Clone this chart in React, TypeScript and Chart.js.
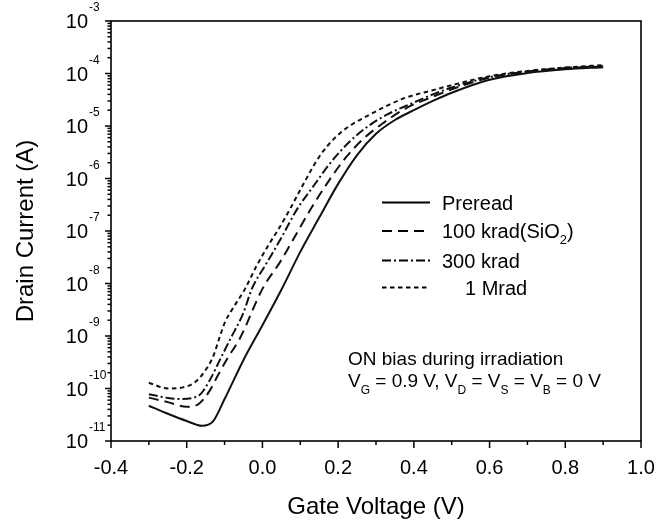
import React, { useEffect, useRef } from 'react';
import { Chart, registerables } from 'chart.js';

Chart.register(...registerables);

const FONT = '"Liberation Sans", Arial, Helvetica, sans-serif';

// ---- Data (gate voltage in V, drain current in A) ----
const prereadVoltage = [-0.30, -0.25, -0.20, -0.16, -0.13, -0.10, -0.05, 0.00, 0.05, 0.10, 0.15, 0.20, 0.25, 0.30, 0.35, 0.40, 0.45, 0.50, 0.60, 0.70, 0.80, 0.90];
const prereadCurrent = [4.7e-11, 3.3e-11, 2.4e-11, 1.95e-11, 2.4e-11, 6.3e-11, 3.5e-10, 1.6e-9, 7.6e-9, 4.0e-8, 1.8e-7, 7.9e-7, 2.8e-6, 7.1e-6, 1.3e-5, 2.0e-5, 3.0e-5, 4.3e-5, 7.6e-5, 1.02e-4, 1.2e-4, 1.32e-4];

const krad100Voltage = [-0.30, -0.25, -0.20, -0.17, -0.14, -0.12, -0.09, -0.06, 0.00, 0.05, 0.09, 0.13, 0.17, 0.22, 0.27, 0.32, 0.38, 0.45, 0.50, 0.60, 0.70, 0.80, 0.90];
const krad100Current = [6.7e-11, 5.5e-11, 4.5e-11, 5.0e-11, 8.9e-11, 1.66e-10, 4.0e-10, 8.9e-10, 7.9e-9, 2.8e-8, 8.9e-8, 2.8e-7, 7.9e-7, 2.5e-6, 6.0e-6, 1.15e-5, 2.2e-5, 3.6e-5, 5.0e-5, 8.3e-5, 1.07e-4, 1.26e-4, 1.35e-4];

const krad300Voltage = [-0.30, -0.25, -0.22, -0.17, -0.14, -0.11, -0.085, -0.05, -0.028, 0.012, 0.052, 0.09, 0.135, 0.18, 0.23, 0.28, 0.33, 0.40, 0.45, 0.50, 0.60, 0.70, 0.80, 0.90];
const krad300Current = [7.8e-11, 6.6e-11, 6.3e-11, 7.2e-11, 1.4e-10, 3.8e-10, 8.7e-10, 2.8e-9, 7.9e-9, 2.5e-8, 7.9e-8, 2.5e-7, 7.2e-7, 2.0e-6, 5.0e-6, 1.0e-5, 1.66e-5, 2.8e-5, 4.0e-5, 5.4e-5, 8.5e-5, 1.09e-4, 1.28e-4, 1.38e-4];

const mrad1Voltage = [-0.30, -0.25, -0.21, -0.18, -0.155, -0.13, -0.112, -0.098, -0.08, -0.046, -0.015, 0.02, 0.043, 0.075, 0.105, 0.15, 0.19, 0.23, 0.28, 0.33, 0.38, 0.45, 0.50, 0.60, 0.70, 0.80, 0.90];
const mrad1Current = [1.29e-10, 1.0e-10, 1.05e-10, 1.29e-10, 2.0e-10, 4.1e-10, 1.0e-9, 1.9e-9, 3.2e-9, 7.9e-9, 2.2e-8, 6.0e-8, 1.1e-7, 2.8e-7, 7.1e-7, 2.6e-6, 5.8e-6, 1.0e-5, 1.6e-5, 2.45e-5, 3.5e-5, 4.8e-5, 6.0e-5, 8.9e-5, 1.12e-4, 1.3e-4, 1.45e-4];

// ---- Axis ticks / labels ----
const xMajorTicks = [-0.4, -0.2, 0.0, 0.2, 0.4, 0.6, 0.8, 1.0];
const xTickLabels = ['-0.4', '-0.2', '0.0', '0.2', '0.4', '0.6', '0.8', '1.0'];
const xMinorTicks = [-0.3, -0.1, 0.1, 0.3, 0.5, 0.7, 0.9];
const yDecadeExponents = [-11, -10, -9, -8, -7, -6, -5, -4, -3];
const yMinorMultipliers = [2, 3, 4, 5, 6, 7, 8, 9];

const xTitle = 'Gate Voltage (V)';
const yTitle = 'Drain Current (A)';

type Part = { t: string; sub?: boolean };
const legendLabels: Part[][] = [
  [{ t: 'Preread' }],
  [{ t: '100 krad(SiO' }, { t: '2', sub: true }, { t: ')' }],
  [{ t: '300 krad' }],
  [{ t: '1 Mrad' }],
];
const annotationLine1: Part[] = [{ t: 'ON bias during irradiation' }];
const annotationLine2: Part[] = [
  { t: 'V' }, { t: 'G', sub: true }, { t: ' = 0.9 V, V' }, { t: 'D', sub: true },
  { t: ' = V' }, { t: 'S', sub: true }, { t: ' = V' }, { t: 'B', sub: true }, { t: ' = 0 V' },
];

const dashes: number[][] = [[], [10, 6], [9, 3, 2, 3], [4.5, 3.5]];

function drawRich(ctx: CanvasRenderingContext2D, parts: Part[], x: number, y: number, size: number, subSize: number, subDrop: number) {
  let cx = x;
  ctx.textAlign = 'left';
  ctx.textBaseline = 'alphabetic';
  for (const p of parts) {
    if (p.sub) {
      ctx.font = `${subSize}px ${FONT}`;
      ctx.fillText(p.t, cx, y + subDrop);
    } else {
      ctx.font = `${size}px ${FONT}`;
      ctx.fillText(p.t, cx, y);
    }
    cx += ctx.measureText(p.t).width;
  }
}

const decorPlugin = {
  id: 'decor',
  afterDraw(chart: any) {
    const ctx: CanvasRenderingContext2D = chart.ctx;
    const { left, right, top, bottom } = chart.chartArea;
    const xs = chart.scales.x;
    const ys = chart.scales.y;
    ctx.save();
    ctx.strokeStyle = '#000';
    ctx.fillStyle = '#000';
    ctx.setLineDash([]);

    // frame
    ctx.lineWidth = 1.6;
    ctx.strokeRect(left, top, right - left, bottom - top);

    const seg = (x1: number, y1: number, x2: number, y2: number) => {
      ctx.beginPath();
      ctx.moveTo(x1, y1);
      ctx.lineTo(x2, y2);
      ctx.stroke();
    };

    // x ticks
    ctx.lineWidth = 1.5;
    xMajorTicks.forEach((v) => {
      const p = xs.getPixelForValue(v);
      seg(p, bottom, p, bottom + 7);
    });
    xMinorTicks.forEach((v) => {
      const p = xs.getPixelForValue(v);
      seg(p, bottom, p, bottom + 4);
    });
    ctx.font = `20px ${FONT}`;
    ctx.textAlign = 'center';
    ctx.textBaseline = 'alphabetic';
    xMajorTicks.forEach((v, i) => {
      const p = xs.getPixelForValue(v);
      ctx.fillText(xTickLabels[i], p, bottom + 33);
    });

    // y ticks
    yDecadeExponents.forEach((e) => {
      const p = ys.getPixelForValue(Math.pow(10, e));
      seg(left - 6, p, left, p);
    });
    yDecadeExponents.slice(0, -1).forEach((e) => {
      yMinorMultipliers.forEach((m) => {
        const p = ys.getPixelForValue(m * Math.pow(10, e));
        seg(left - 3.5, p, left, p);
      });
    });
    // y labels 10^e
    const baseRight = left - 23;
    yDecadeExponents.forEach((e) => {
      const p = ys.getPixelForValue(Math.pow(10, e));
      ctx.font = `20px ${FONT}`;
      ctx.textAlign = 'right';
      ctx.fillText('10', baseRight, p + 7);
      ctx.font = `12px ${FONT}`;
      ctx.textAlign = 'left';
      ctx.fillText(String(e), baseRight + 1, p - 10);
    });

    // axis titles
    ctx.font = `24px ${FONT}`;
    ctx.textAlign = 'center';
    ctx.fillText(xTitle, (left + right) / 2, 514);
    ctx.save();
    ctx.translate(33, (top + bottom) / 2);
    ctx.rotate(-Math.PI / 2);
    ctx.fillText(yTitle, 0, 0);
    ctx.restore();

    // legend
    const rowY = [202.5, 231, 260.5, 287.5];
    const textX = [442, 442, 442, 465];
    chart.data.datasets.forEach((ds: any, i: number) => {
      ctx.lineWidth = 2;
      ctx.setLineDash(ds.borderDash || []);
      seg(382, rowY[i], 430, rowY[i]);
      ctx.setLineDash([]);
      drawRich(ctx, legendLabels[i], textX[i], rowY[i] + 7, 20, 13, 6);
    });

    // annotation
    drawRich(ctx, annotationLine1, 348, 365, 19, 12, 7);
    drawRich(ctx, annotationLine2, 348, 387, 19, 12, 7);

    ctx.restore();
  },
};

const seriesVoltages = [prereadVoltage, krad100Voltage, krad300Voltage, mrad1Voltage];
const seriesCurrents = [prereadCurrent, krad100Current, krad300Current, mrad1Current];
const seriesNames = ['Preread', '100 krad(SiO2)', '300 krad', '1 Mrad'];

export default function App() {
  const canvasRef = useRef<HTMLCanvasElement | null>(null);

  useEffect(() => {
    if (!canvasRef.current) return;
    const datasets = seriesNames.map((name, i) => ({
      label: name,
      data: seriesVoltages[i].map((v, j) => ({ x: v, y: seriesCurrents[i][j] })),
      borderColor: '#111',
      backgroundColor: '#111',
      borderWidth: 2,
      borderDash: dashes[i],
      borderCapStyle: 'butt' as const,
      pointRadius: 0,
      fill: false,
      cubicInterpolationMode: 'monotone' as const,
    }));
    const chart = new Chart(canvasRef.current, {
      type: 'line',
      data: { datasets },
      options: {
        responsive: false,
        animation: false,
        devicePixelRatio: 1,
        layout: { padding: { left: 0, top: 21, right: 30, bottom: 0 } },
        plugins: { legend: { display: false }, tooltip: { enabled: false } },
        scales: {
          x: {
            type: 'linear',
            min: -0.4,
            max: 1.0,
            grid: { display: false },
            border: { display: false },
            ticks: { display: false },
            afterFit: (s: any) => { s.height = 80; },
          },
          y: {
            type: 'logarithmic',
            min: 1e-11,
            max: 1e-3,
            grid: { display: false },
            border: { display: false },
            ticks: { display: false },
            afterFit: (s: any) => { s.width = 111; },
          },
        },
      },
      plugins: [decorPlugin],
    } as any);
    return () => chart.destroy();
  }, []);

  return (
    <div style={{ position: 'absolute', left: 0, top: 0, width: 671, height: 521, background: '#fff' }}>
      <canvas ref={canvasRef} width={671} height={521} style={{ display: 'block' }} />
    </div>
  );
}
